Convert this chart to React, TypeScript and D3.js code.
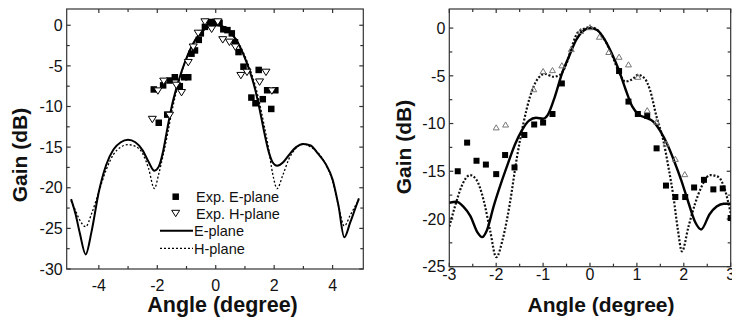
import React from 'react';
import * as d3 from 'd3';

const FONT = '"Liberation Sans", Arial, Helvetica, sans-serif';

// ---- left panel: simulated patterns ----
const leftCurveAngle = [-4.95, -4.8, -4.65, -4.45, -4.25, -4.0, -3.75, -3.5, -3.25, -3.0, -2.75, -2.5, -2.3, -2.1, -1.95, -1.8, -1.65, -1.5, -1.35, -1.15, -0.95, -0.7, -0.45, -0.2, 0, 0.2, 0.45, 0.7, 0.95, 1.15, 1.35, 1.5, 1.65, 1.8, 1.95, 2.1, 2.3, 2.5, 2.75, 3.0, 3.25, 3.5, 3.75, 4.0, 4.2, 4.4, 4.6, 4.75, 4.9];
const leftEPlane = [-21.4, -23.2, -25.6, -28.2, -25.4, -20.5, -17.2, -15.3, -14.4, -14.1, -14.4, -15.4, -16.8, -17.9, -17.4, -15.5, -12.6, -9.9, -7.8, -5.5, -3.6, -1.8, -0.7, -0.1, 0, -0.1, -0.7, -1.8, -3.6, -5.5, -7.9, -10.3, -13.0, -15.4, -16.9, -17.3, -16.9, -16.0, -15.0, -14.6, -14.8, -15.8, -17.0, -19.0, -22.2, -26.1, -24.3, -22.8, -21.3];
const leftHPlane = [-21.6, -22.8, -24.0, -24.8, -23.2, -20.5, -17.8, -15.9, -15.0, -14.7, -14.9, -15.8, -17.6, -20.1, -18.3, -16.0, -13.4, -10.6, -8.2, -5.6, -3.6, -1.8, -0.7, -0.1, 0, -0.1, -0.6, -1.7, -3.4, -5.2, -7.4, -9.6, -12.2, -15.0, -18.3, -20.1, -18.4, -16.5, -15.1, -14.6, -15.0, -15.7, -17.0, -19.2, -22.2, -24.7, -23.4, -22.4, -21.5];

// ---- left panel: measurements ----
const leftExpEAngle = [-2.12, -1.95, -1.8, -1.66, -1.58, -1.4, -1.23, -1.08, -0.94, -0.83, -0.71, -0.58, -0.51, -0.37, -0.2, -0.02, 0.13, 0.26, 0.4, 0.55, 0.66, 0.78, 0.95, 1.22, 1.36, 1.47, 1.61, 1.76, 1.9, 2.04];
const leftExpEGain = [-7.9, -12.0, -7.4, -11.0, -6.8, -6.4, -7.5, -6.4, -6.4, -3.5, -3.1, -1.8, -1.0, -0.2, 0.4, 0.4, 0.3, -0.5, -0.6, -1.0, -2.1, -3.3, -5.1, -8.9, -9.6, -5.5, -9.1, -8.0, -10.3, -8.0];
const leftExpHAngle = [-2.17, -1.98, -1.78, -1.58, -1.35, -1.17, -0.94, -0.77, -0.6, -0.37, -0.14, 0.07, 0.24, 0.47, 0.67, 0.86, 1.07, 1.5, 1.72, 1.92];
const leftExpHGain = [-11.6, -8.1, -6.9, -11.1, -7.4, -8.3, -4.6, -2.7, -1.0, 0.4, -0.5, 0.4, -1.8, -2.1, -2.7, -6.2, -5.8, -7.0, -5.8, -8.1];

// ---- right panel: simulated patterns ----
const rightEAngle = [-3.0, -2.85, -2.7, -2.55, -2.4, -2.3, -2.2, -2.05, -1.9, -1.75, -1.6, -1.45, -1.3, -1.15, -1.0, -0.9, -0.75, -0.6, -0.45, -0.3, -0.15, 0, 0.15, 0.3, 0.45, 0.6, 0.75, 0.9, 1.05, 1.2, 1.35, 1.5, 1.65, 1.8, 1.95, 2.1, 2.25, 2.37, 2.55, 2.7, 2.85, 3.0];
const rightEGain = [-18.3, -18.2, -18.7, -19.7, -21.4, -21.9, -21.2, -18.6, -16.3, -14.2, -12.2, -10.7, -9.7, -9.4, -9.5, -9.1, -7.2, -4.8, -3.0, -1.3, -0.3, 0, -0.2, -1.1, -2.5, -4.2, -6.3, -8.2, -9.1, -9.4, -9.8, -10.8, -12.2, -14.0, -16.0, -18.3, -20.4, -21.1, -19.5, -18.7, -18.4, -18.4];
const rightHAngle = [-3.0, -2.88, -2.74, -2.56, -2.42, -2.27, -2.13, -2.0, -1.85, -1.71, -1.56, -1.42, -1.28, -1.14, -0.96, -0.78, -0.64, -0.5, -0.39, -0.28, -0.14, 0.02, 0.18, 0.32, 0.46, 0.6, 0.75, 0.92, 1.02, 1.17, 1.28, 1.42, 1.56, 1.67, 1.78, 1.87, 1.96, 2.1, 2.24, 2.38, 2.56, 2.74, 2.88, 3.0];
const rightHGain = [-20.8, -18.7, -16.6, -15.4, -15.9, -18.0, -21.2, -24.0, -21.9, -18.4, -13.6, -10.0, -7.2, -5.5, -4.8, -5.1, -4.9, -3.7, -2.0, -0.6, -0.1, 0.1, -0.3, -1.3, -2.7, -4.4, -5.6, -5.3, -4.9, -5.3, -6.5, -9.3, -11.7, -14.5, -17.7, -21.0, -23.4, -20.8, -18.4, -16.6, -15.4, -15.6, -17.0, -19.4];

// ---- right panel: measurements ----
const rightExpEAngle = [-2.82, -2.62, -2.42, -2.22, -2.0, -1.81, -1.61, -1.4, -1.19, -1.0, -0.8, -0.6, 0.62, 0.82, 1.02, 1.22, 1.42, 1.62, 1.82, 2.03, 2.22, 2.43, 2.63, 2.83, 3.0];
const rightExpEGain = [-15.0, -12.0, -13.9, -14.3, -15.3, -13.3, -14.6, -11.2, -10.1, -9.9, -9.0, -5.8, -4.5, -7.7, -9.0, -9.2, -12.6, -16.5, -17.7, -17.7, -16.7, -15.9, -16.9, -16.8, -19.9];
const rightExpHAngle = [-2.0, -1.8, -1.2, -1.0, -0.8, -0.6, -0.4, -0.2, 0, 0.2, 0.4, 0.62, 0.82, 1.02, 1.22, 1.42, 1.62, 1.82, 2.02];
const rightExpHGain = [-10.4, -10.1, -6.4, -4.5, -4.4, -3.9, -2.2, -0.3, 0.1, -0.9, -2.5, -3.0, -3.8, -5.1, -8.6, -9.8, -12.1, -13.7, -15.3];

const leftXMajor = [-4, -2, 0, 2, 4];
const leftXMinor = [-3, -1, 1, 3];
const leftYMajor = [0, -5, -10, -15, -20, -25, -30];
const leftYMinor = [-2.5, -7.5, -12.5, -17.5, -22.5, -27.5];
const rightXMajor = [-3, -2, -1, 0, 1, 2, 3];
const rightXMinor = [-2.5, -1.5, -0.5, 0.5, 1.5, 2.5];
const rightYMajor = [0, -5, -10, -15, -20, -25];
const rightYMinor = [-2.5, -7.5, -12.5, -17.5, -22.5];

const zip = (a: number[], b: number[]) => a.map((v, i) => [v, b[i]] as [number, number]);

function Frame({ x, y, xMajor, xMinor, yMajor, yMinor, xLabelDy, clipId }: any) {
  const [l, r] = x.range();
  const [b, t] = y.range();
  const stroke = '#333';
  return (
    <g>
      <defs>
        <clipPath id={clipId}>
          <rect x={l} y={t} width={r - l} height={b - t} />
        </clipPath>
      </defs>
      <rect x={l} y={t} width={r - l} height={b - t} fill="none" stroke={stroke} strokeWidth={1.2} />
      {[...xMajor.map((v: number) => [v, 4]), ...xMinor.map((v: number) => [v, 3])].map(([v, len]: number[], i: number) => (
        <g key={'x' + i}>
          <line x1={x(v)} x2={x(v)} y1={b} y2={b - len} stroke={stroke} strokeWidth={1.2} />
          <line x1={x(v)} x2={x(v)} y1={t} y2={t + len} stroke={stroke} strokeWidth={1.2} />
        </g>
      ))}
      {[...yMajor.map((v: number) => [v, 4]), ...yMinor.map((v: number) => [v, 3])].map(([v, len]: number[], i: number) => (
        <g key={'y' + i}>
          <line x1={l} x2={l + len} y1={y(v)} y2={y(v)} stroke={stroke} strokeWidth={1.2} />
          <line x1={r} x2={r - len} y1={y(v)} y2={y(v)} stroke={stroke} strokeWidth={1.2} />
        </g>
      ))}
      {xMajor.map((v: number) => (
        <text key={'xl' + v} x={x(v)} y={b + xLabelDy} textAnchor="middle" fontSize={16} fontFamily={FONT} fill="#111">
          {String(v)}
        </text>
      ))}
      {yMajor.map((v: number) => (
        <text key={'yl' + v} x={l - 4} y={y(v) + 5.7} textAnchor="end" fontSize={16} fontFamily={FONT} fill="#111">
          {String(v)}
        </text>
      ))}
    </g>
  );
}

function Square({ cx, cy, s }: any) {
  return <rect x={cx - s / 2} y={cy - s / 2} width={s} height={s} fill="#000" />;
}

function TriDown({ cx, cy, s }: any) {
  const h = s * 0.8;
  return (
    <path
      d={`M${cx - s / 2},${cy - h / 2}L${cx + s / 2},${cy - h / 2}L${cx},${cy + h / 2}Z`}
      fill="#fff"
      stroke="#000"
      strokeWidth={1}
    />
  );
}

function TriUp({ cx, cy, s }: any) {
  const h = s * 0.85;
  return (
    <path
      d={`M${cx - s / 2},${cy + h / 2}L${cx + s / 2},${cy + h / 2}L${cx},${cy - h / 2}Z`}
      fill="none"
      stroke="#777"
      strokeWidth={1}
    />
  );
}

function LeftPanel() {
  const x = d3.scaleLinear().domain([-5.1, 5.05]).range([66.7, 363.3]);
  const y = d3.scaleLinear().domain([-30, 2]).range([269, 9]);
  const line = d3
    .line<[number, number]>()
    .x((d) => x(d[0]))
    .y((d) => y(d[1]))
    .curve(d3.curveMonotoneX);
  return (
    <g>
      <Frame x={x} y={y} xMajor={leftXMajor} xMinor={leftXMinor} yMajor={leftYMajor} yMinor={leftYMinor} xLabelDy={21.5} clipId="clipL" />
      <g clipPath="url(#clipL)">
        <path d={line(zip(leftCurveAngle, leftHPlane)) || ''} fill="none" stroke="#000" strokeWidth={1.3} strokeDasharray="2,2" />
        <path d={line(zip(leftCurveAngle, leftEPlane)) || ''} fill="none" stroke="#000" strokeWidth={2} />
        {leftExpEAngle.map((a, i) => (
          <Square key={'e' + i} cx={x(a)} cy={y(leftExpEGain[i])} s={6.5} />
        ))}
        {leftExpHAngle.map((a, i) => (
          <TriDown key={'h' + i} cx={x(a)} cy={y(leftExpHGain[i])} s={8} />
        ))}
      </g>
      {/* legend */}
      <g fontFamily={FONT} fontSize={14.5} fill="#111">
        <Square cx={175.7} cy={196.7} s={6.5} />
        <text x={196} y={202}>Exp. E-plane</text>
        <TriDown cx={175.7} cy={213.5} s={8} />
        <text x={196} y={219}>Exp. H-plane</text>
        <line x1={160} x2={193} y1={230.7} y2={230.7} stroke="#000" strokeWidth={2} />
        <text x={194} y={236}>E-plane</text>
        <line x1={160} x2={193} y1={248.3} y2={248.3} stroke="#000" strokeWidth={1.2} strokeDasharray="2,2" />
        <text x={194} y={253.5}>H-plane</text>
      </g>
      <text x={222.5} y={312} textAnchor="middle" fontFamily={FONT} fontSize={21.5} fontWeight="bold" fill="#111">
        Angle (degree)
      </text>
      <text transform="translate(27,155) rotate(-90)" textAnchor="middle" fontFamily={FONT} fontSize={21} fontWeight="bold" fill="#111">
        Gain (dB)
      </text>
    </g>
  );
}

function RightPanel() {
  const x = d3.scaleLinear().domain([-3, 3]).range([449.3, 730.7]);
  const y = d3.scaleLinear().domain([-25, 2]).range([266.7, 9]);
  const line = d3
    .line<[number, number]>()
    .x((d) => x(d[0]))
    .y((d) => y(d[1]))
    .curve(d3.curveMonotoneX);
  return (
    <g>
      <Frame x={x} y={y} xMajor={rightXMajor} xMinor={rightXMinor} yMajor={rightYMajor} yMinor={rightYMinor} xLabelDy={13.5} clipId="clipR" />
      <g clipPath="url(#clipR)">
        <path d={line(zip(rightHAngle, rightHGain)) || ''} fill="none" stroke="#111" strokeWidth={2.2} strokeDasharray="2,1.8" />
        <path d={line(zip(rightEAngle, rightEGain)) || ''} fill="none" stroke="#000" strokeWidth={2.4} />
        {rightExpEAngle.map((a, i) => (
          <Square key={'e' + i} cx={x(a)} cy={y(rightExpEGain[i])} s={6} />
        ))}
        {rightExpHAngle.map((a, i) => (
          <TriUp key={'h' + i} cx={x(a)} cy={y(rightExpHGain[i])} s={6} />
        ))}
      </g>
      <text x={601} y={312} textAnchor="middle" fontFamily={FONT} fontSize={21} fontWeight="bold" fill="#111">
        Angle (degree)
      </text>
      <text transform="translate(411,147) rotate(-90)" textAnchor="middle" fontFamily={FONT} fontSize={21} fontWeight="bold" fill="#111">
        Gain (dB)
      </text>
    </g>
  );
}

export default function App() {
  return (
    <svg width={732} height={320} style={{ position: 'absolute', left: 0, top: 0, background: '#fff' }}>
      <rect width={732} height={320} fill="#fff" />
      <LeftPanel />
      <RightPanel />
    </svg>
  );
}
